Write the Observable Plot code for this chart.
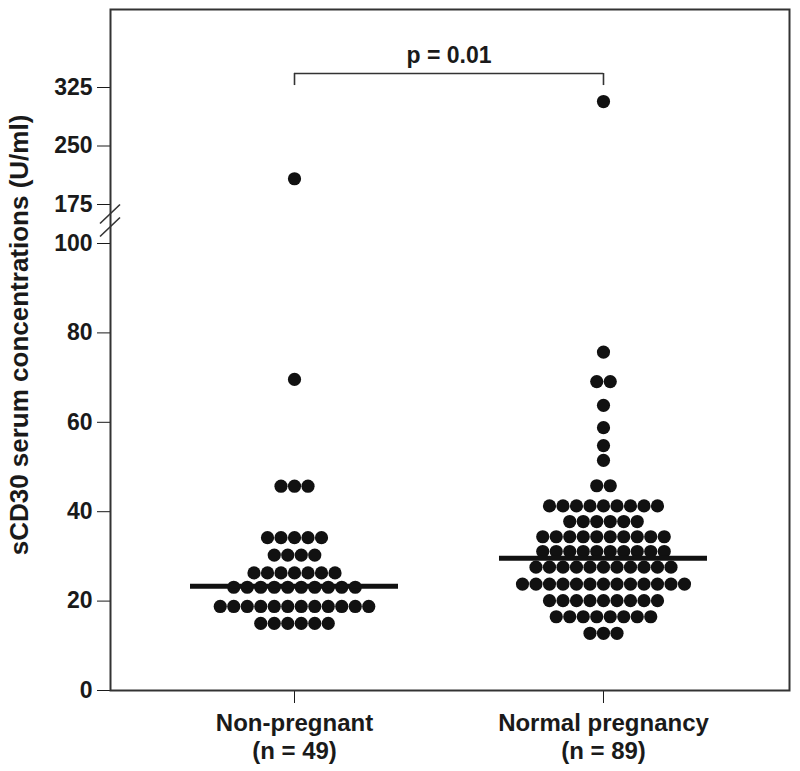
<!DOCTYPE html>
<html>
<head>
<meta charset="utf-8">
<script src="https://cdn.jsdelivr.net/npm/d3@7"></script>
<script src="https://cdn.jsdelivr.net/npm/@observablehq/plot@0.6"></script>
<style>
  html, body { margin: 0; padding: 0; background: #fff; }
</style>
</head>
<body>
<div id="chart"></div>
<script>
// ---- Data ----
const groups = ["Non-pregnant", "Normal pregnancy"];
const groupCounts = ["(n = 49)", "(n = 89)"];

const nonPregnant = [
  208,
  69.6,
  45.7, 45.7, 45.7,
  34.2, 34.2, 34.2, 34.2, 34.2,
  30.3, 30.3, 30.3, 30.3,
  26.3, 26.3, 26.3, 26.3, 26.3, 26.3, 26.3,
  23.1, 23.1, 23.1, 23.1, 23.1, 23.1, 23.1, 23.1, 23.1, 23.1,
  18.8, 18.8, 18.8, 18.8, 18.8, 18.8, 18.8, 18.8, 18.8, 18.8, 18.8, 18.8,
  15.0, 15.0, 15.0, 15.0, 15.0, 15.0
];

const normalPregnancy = [
  307,
  75.7,
  69.1, 69.1,
  63.8,
  58.8,
  54.8,
  51.5,
  45.8, 45.8,
  41.3, 41.3, 41.3, 41.3, 41.3, 41.3, 41.3, 41.3, 41.3,
  37.8, 37.8, 37.8, 37.8, 37.8, 37.8,
  34.4, 34.4, 34.4, 34.4, 34.4, 34.4, 34.4, 34.4, 34.4, 34.4,
  31.1, 31.1, 31.1, 31.1, 31.1, 31.1, 31.1, 31.1, 31.1, 31.1,
  27.6, 27.6, 27.6, 27.6, 27.6, 27.6, 27.6, 27.6, 27.6, 27.6, 27.6,
  23.8, 23.8, 23.8, 23.8, 23.8, 23.8, 23.8, 23.8, 23.8, 23.8, 23.8, 23.8, 23.8,
  20.1, 20.1, 20.1, 20.1, 20.1, 20.1, 20.1, 20.1, 20.1,
  16.5, 16.5, 16.5, 16.5, 16.5, 16.5, 16.5, 16.5,
  12.8, 12.8, 12.8
];

const medians = [23.3, 29.6];
const yTicks = [0, 20, 40, 60, 80, 100, 175, 250, 325];
const yLabel = "sCD30 serum concentrations (U/ml)";
const pValueLabel = "p = 0.01";

// ---- Layout ----
const W = 800, H = 771;
const marginLeft = 110, marginRight = 11, marginTop = 9, marginBottom = 81;
const xDomain = [-0.5955, 1.602];
// broken (piecewise) y axis: 0–100 lower panel, 175–425 upper panel
const yDomain = [0, 100, 175, 425];
const yRange = [690, 243, 204, 9];
const breakLow = 100, breakHigh = 175;
const bracketY = 343, bracketTickY = 327.5;

const pxPerUnit = (W - marginLeft - marginRight) / (xDomain[1] - xDomain[0]);
const step = 13.5 / pxPerUnit;        // horizontal spacing between dots
const halfLine = 104 / pxPerUnit;     // half length of the median bars

const dots = [];
[nonPregnant, normalPregnancy].forEach((vals, gi) => {
  for (const [v, row] of d3.group(vals, d => d)) {
    row.forEach((_, i) => dots.push({x: gi + (i - (row.length - 1) / 2) * step, y: v}));
  }
});
const medianData = medians.map((m, i) => ({x: i, y: m}));
const xLabels = groups.map((g, i) => ({x: i, text: g + "\n" + groupCounts[i]}));

function axisBreak(index, scales, values, dimensions) {
  const yMid = (scales.y(breakLow) + scales.y(breakHigh)) / 2 - 3;
  const x0 = dimensions.marginLeft;
  const g = d3.create("svg:g").attr("stroke", "#333").attr("stroke-width", 1.6);
  for (const off of [-6.5, 6.5]) {
    g.append("line")
      .attr("x1", x0 - 10).attr("y1", yMid + off + 9.5)
      .attr("x2", x0 + 10).attr("y2", yMid + off - 9.5);
  }
  return g.node();
}

const chart = Plot.plot({
  width: W,
  height: H,
  marginLeft, marginRight, marginTop, marginBottom,
  style: {
    fontFamily: "'Liberation Sans', Arial, Helvetica, sans-serif",
    fontSize: "23px",
    fontWeight: "bold",
    color: "#1a1a1a",
    background: "#fff",
    overflow: "visible"
  },
  x: {type: "linear", domain: xDomain, ticks: [0, 1], tickFormat: () => "", tickSize: 13, label: null},
  y: {type: "linear", domain: yDomain, range: yRange, ticks: yTicks, tickSize: 13, tickPadding: 5, label: null},
  marks: [
    Plot.frame({stroke: "#333", strokeWidth: 2}),
    axisBreak,
    Plot.dot(dots, {x: "x", y: "y", r: 6.6, fill: "#111", stroke: "none"}),
    Plot.ruleY(medianData, {y: "y", x1: d => d.x - halfLine, x2: d => d.x + halfLine, stroke: "#111", strokeWidth: 5}),
    Plot.ruleY([bracketY], {x1: 0, x2: 1, stroke: "#333", strokeWidth: 1.6}),
    Plot.ruleX([0, 1], {x: d => d, y1: bracketTickY, y2: bracketY, stroke: "#333", strokeWidth: 1.6}),
    Plot.text([{x: 0.5, y: bracketY, text: pValueLabel}], {x: "x", y: "y", text: "text", dy: -18, fontSize: 23, fontWeight: "bold", fill: "#1a1a1a"}),
    Plot.text(xLabels, {x: "x", text: "text", frameAnchor: "bottom", lineAnchor: "top", dy: 21, lineHeight: 1.15, fontSize: 24, fontWeight: "bold", fill: "#1a1a1a"}),
    Plot.text([yLabel], {frameAnchor: "left", textAnchor: "middle", rotate: -90, dx: -91, dy: -15, fontSize: 26, fontWeight: "bold", fill: "#1a1a1a"})
  ]
});
document.getElementById("chart").appendChild(chart);
</script>
</body>
</html>
